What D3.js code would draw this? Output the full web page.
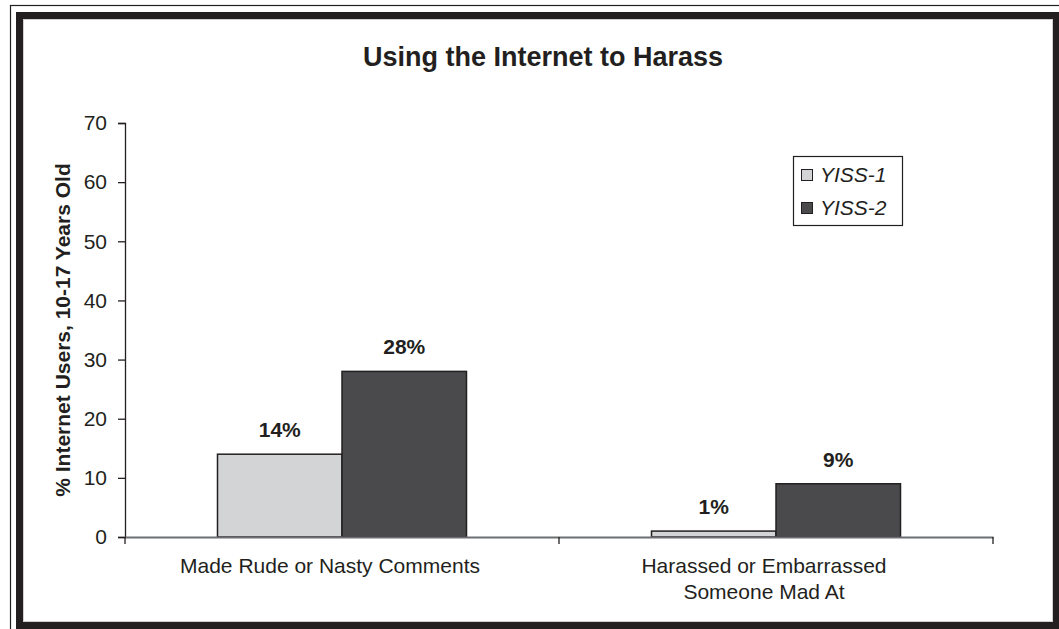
<!DOCTYPE html>
<html>
<head>
<meta charset="utf-8">
<script src="https://cdn.jsdelivr.net/npm/d3@7"></script>
<style>
body { margin: 0; background: #fff; }
text { font-family: "Liberation Sans", Arial, sans-serif; fill: #231f20; }
</style>
</head>
<body>
<div id="chart"></div>
<script>
var categories = [["Made Rude or Nasty Comments"], ["Harassed or Embarrassed", "Someone Mad At"]];
var seriesNames = ["YISS-1", "YISS-2"];
var yiss1 = [14, 1];
var yiss2 = [28, 9];
var yTicks = [0, 10, 20, 30, 40, 50, 60, 70];

var w = 1059, h = 629;
var colors = d3.scaleOrdinal().domain(seriesNames).range(["#d3d4d6", "#4a4a4c"]);

var svg = d3.select("#chart").append("svg")
    .attr("width", w)
    .attr("height", h);

// frame: thin outer line + thick black border
svg.append("rect")
    .attr("x", 10.5).attr("y", 5.5)
    .attr("width", w).attr("height", h)
    .attr("fill", "none").attr("stroke", "#231f20").attr("stroke-width", 1.2);
svg.append("rect")
    .attr("x", 19.5).attr("y", 15.5)
    .attr("width", 1037).attr("height", 610)
    .attr("fill", "none").attr("stroke", "#231f20").attr("stroke-width", 7);
svg.append("rect")
    .attr("x", 23.5).attr("y", 19.5)
    .attr("width", 1029).attr("height", 602)
    .attr("fill", "none").attr("stroke", "#d0d0d0").attr("stroke-width", 1);

var data = [];
categories.forEach(function(c, i) {
    data.push({cat: i, series: "YISS-1", val: yiss1[i]});
    data.push({cat: i, series: "YISS-2", val: yiss2[i]});
});

var x0 = 125, x1 = 993, yBase = 537, yTop = 123;

var xOuter = d3.scaleBand()
    .domain(categories.map(function(d, i) { return i; }))
    .range([x0, x1])
    .paddingInner(0)
    .paddingOuter(0);

var xInner = d3.scaleBand()
    .domain(seriesNames)
    .range([0, 249]);

var yScale = d3.scaleLinear()
    .domain([0, 70])
    .range([yBase, yTop]);

// title
svg.append("text")
    .attr("x", 543).attr("y", 66)
    .attr("text-anchor", "middle")
    .style("font-size", "27px").style("font-weight", "bold")
    .text("Using the Internet to Harass");

// y axis
var yAxis = d3.axisLeft(yScale).tickValues(yTicks).tickSize(7).tickPadding(11);
var gy = svg.append("g")
    .attr("transform", "translate(" + x0 + ",0)")
    .call(yAxis);
gy.select(".domain").attr("stroke", "#231f20").attr("stroke-width", 1.3);
gy.selectAll(".tick line").attr("stroke", "#231f20").attr("stroke-width", 1.3);
gy.selectAll(".tick text")
    .style("font-size", "21px")
    .style("font-family", "Liberation Sans, Arial, sans-serif")
    .attr("fill", "#231f20");

svg.append("text")
    .attr("transform", "translate(70,330) rotate(-90)")
    .attr("text-anchor", "middle")
    .style("font-size", "21px").style("font-weight", "bold")
    .text("% Internet Users, 10-17 Years Old");

// bars
var groupOffset = (xOuter.bandwidth() - 249) / 2;
svg.selectAll("rect.bar")
    .data(data)
    .enter()
    .append("rect")
    .attr("class", "bar")
    .attr("x", function(d) { return xOuter(d.cat) + groupOffset + xInner(d.series); })
    .attr("y", function(d) { return yScale(d.val); })
    .attr("width", xInner.bandwidth())
    .attr("height", function(d) { return yBase - yScale(d.val); })
    .attr("fill", function(d) { return colors(d.series); })
    .attr("stroke", "#231f20")
    .attr("stroke-width", 1.5);

svg.selectAll("text.val")
    .data(data)
    .enter()
    .append("text")
    .attr("class", "val")
    .attr("x", function(d) { return xOuter(d.cat) + groupOffset + xInner(d.series) + xInner.bandwidth() / 2; })
    .attr("y", function(d) { return yScale(d.val) - 17; })
    .attr("text-anchor", "middle")
    .style("font-size", "21px").style("font-weight", "bold")
    .text(function(d) { return d.val + "%"; });

// x axis
var xAxis = d3.axisBottom(xOuter).tickSize(0).tickFormat("");
var gx = svg.append("g")
    .attr("transform", "translate(0," + yBase + ")")
    .call(xAxis);
gx.select(".domain").attr("stroke", "#6d6e70").attr("stroke-width", 2);
[x0, (x0 + x1) / 2, x1].forEach(function(t) {
    gx.append("line")
        .attr("x1", t).attr("x2", t).attr("y1", 0).attr("y2", 7)
        .attr("stroke", "#231f20").attr("stroke-width", 1.3);
});

// category labels sit a little left of the band centre in the original
categories.forEach(function(lines, i) {
    var t = svg.append("text")
        .attr("text-anchor", "middle")
        .style("font-size", "21px");
    lines.forEach(function(l, j) {
        t.append("tspan")
            .attr("x", xOuter(i) + xOuter.bandwidth() / 2 - 12)
            .attr("y", 573 + j * 26)
            .text(l);
    });
});

// legend
var lg = svg.append("g");
lg.append("rect")
    .attr("x", 793.5).attr("y", 156.5)
    .attr("width", 109).attr("height", 69)
    .attr("fill", "#fff").attr("stroke", "#231f20").attr("stroke-width", 1.2);
seriesNames.forEach(function(s, i) {
    var cy = 175 + i * 33;
    lg.append("rect")
        .attr("x", 801.5).attr("y", cy - 5.5)
        .attr("width", 11).attr("height", 11)
        .attr("fill", colors(s)).attr("stroke", "#231f20").attr("stroke-width", 1);
    lg.append("text")
        .attr("x", 820).attr("y", cy + 7)
        .style("font-size", "21px").style("font-style", "italic")
        .text(s);
});
</script>
</body>
</html>
